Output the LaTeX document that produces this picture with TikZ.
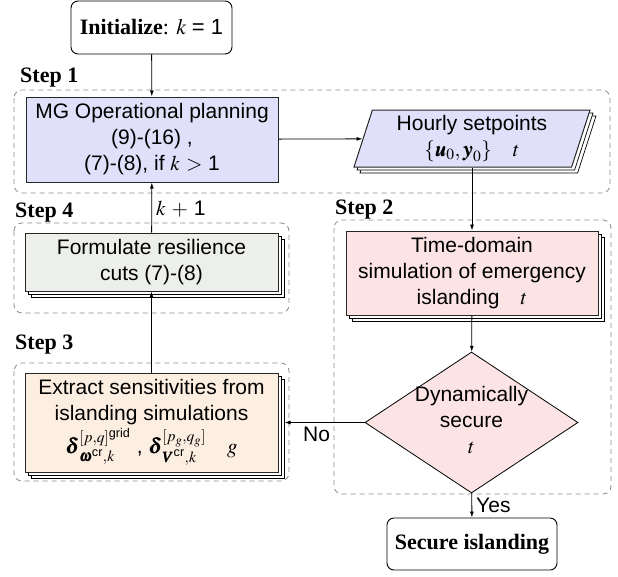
\documentclass[tikz,border=0pt]{standalone}
\usepackage{amsmath}
\usepackage{mathptmx}
\usepackage{bm}
\usepackage[no-math]{fontspec}
\setmainfont{Liberation Serif}
\setsansfont{Liberation Sans}
\usetikzlibrary{shapes.geometric,shadows,arrows.meta}
\definecolor{lav}{RGB}{224,224,250}
\definecolor{pinkc}{RGB}{252,228,228}
\definecolor{grayg}{RGB}{237,240,234}
\definecolor{peach}{RGB}{253,238,226}
\begin{document}
\begin{tikzpicture}[x=1pt,y=-1pt,
  every node/.style={font=\sffamily\fontsize{21}{26}\selectfont},
  proc/.style={draw=black!85, line width=1pt, align=center, inner sep=2pt},
  shad/.style={double copy shadow={shadow xshift=3pt, shadow yshift=-3pt, fill=white, draw=black, line width=0.7pt}},
  term/.style={draw=black, line width=0.9pt, rounded corners=7pt, fill=white, align=center, font=\rmfamily\fontsize{22}{26}\selectfont},
  group/.style={draw=black!45, dash pattern=on 5pt off 4pt, line width=0.8pt, rounded corners=8pt},
  steplab/.style={anchor=west, inner sep=0pt, font=\rmfamily\bfseries\fontsize{22}{26}\selectfont},
  arr/.style={-{Latex[length=6pt,width=4pt]}, line width=0.8pt},
  lab/.style={inner sep=4pt}]
\useasboundingbox (0,0) rectangle (618,576);
% groups
\draw[group] (14,90) rectangle (610,193);
\draw[group] (334,220) rectangle (611,494);
\draw[group] (14,223) rectangle (289,313);
\draw[group] (14,363) rectangle (289,481);
% step labels
\node[steplab] (s1) at (20,78) {Step 1};
\node[steplab] (s2) at (335,210) {Step 2};
\node[steplab] (s4) at (15,213) {Step 4};
\node[steplab] (s3) at (15,345) {Step 3};
% nodes
\node[term, minimum width=161pt, minimum height=53pt] (init) at (151.5,27.5) {\textbf{Initialize}: $k$ {\sffamily = 1}};
\node[proc, fill=lav, minimum width=252pt, minimum height=85pt] (mg) at (152,139.5)
  {MG Operational planning\\(9)-(16) ,\\(7)-(8), if $k$ $>$ 1};
\node[proc, shad, fill=lav, trapezium, trapezium left angle=70, trapezium right angle=110,
  trapezium stretches body, minimum width=236pt, minimum height=57pt] (hour) at (472,138.5)
  {Hourly setpoints\\$\{\bm{u}_0,\bm{y}_0\}$\quad $t$};
\node[proc, shad, fill=pinkc, minimum width=252pt, minimum height=84pt] (sim) at (472,273)
  {Time-domain\\simulation of emergency\\islanding\quad $t$};
\node[diamond, draw=black, line width=0.8pt, fill=pinkc, minimum width=213pt, minimum height=141pt,
  inner sep=0pt, aspect=1.5] (dec) at (471.5,422.5)
  {\makebox[0pt]{\begin{tabular}{@{}c@{}}Dynamically\\secure\\$t$\end{tabular}}};
\node[term, font=\rmfamily\bfseries\fontsize{22}{26}\selectfont, minimum width=170pt, minimum height=52pt] (sec) at (472,544) {Secure islanding};
\node[proc, shad, fill=grayg, minimum width=253pt, minimum height=58pt] (form) at (151.5,262)
  {Formulate resilience\\cuts (7)-(8)};
\node[proc, shad, fill=peach, minimum width=253pt, minimum height=99pt] (ext) at (151.5,422.5)
  {Extract sensitivities from\\islanding simulations\\[2pt]
   $\bm{\delta}^{[p,q]^{\textsf{grid}}}_{\bm{\omega}^{\textsf{cr}},k}$ ,
   $\bm{\delta}^{[p_g,q_g]}_{\bm{V}^{\textsf{cr}},k}$\quad $g$};
% connectors
\draw[arr] (init) -- (mg);
\draw[arr] (mg) -- (hour);
\draw[arr] (hour) -- (sim);
\draw[arr] (sim) -- (dec);
\draw[arr] (dec) -- node[lab, right, pos=0.5] {Yes} (sec);
\draw[arr] (dec.west) -- node[lab, below, pos=0.6] {No} ([xshift=6pt]ext.east);
\draw[arr] (ext) -- (form);
\draw[arr] (form) -- node[lab, right, pos=0.47] {$k$ $+$ 1} (mg);
\end{tikzpicture}
\end{document}
